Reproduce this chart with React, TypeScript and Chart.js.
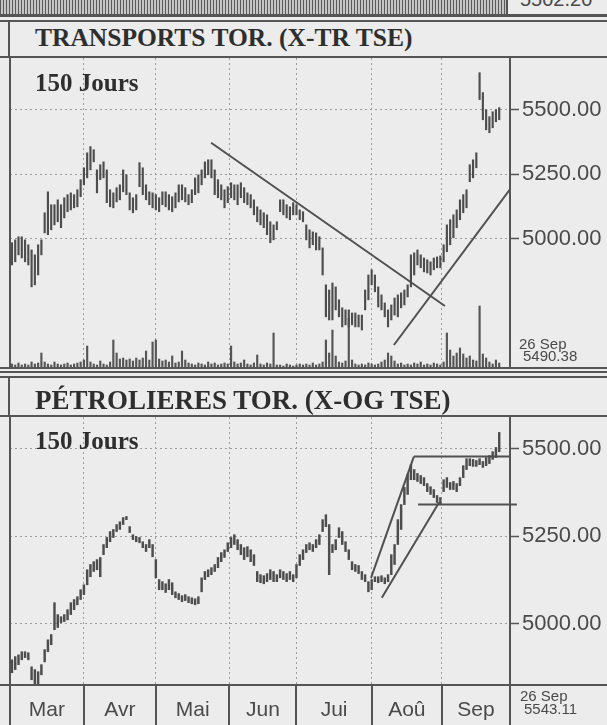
import React, { useEffect, useRef } from 'react';
import { Chart, registerables } from 'chart.js';

Chart.register(...registerables);

// ---------- data ----------
const months = ['Mar', 'Avr', 'Mai', 'Jun', 'Jui', 'Aoû', 'Sep'];
const monthStarts = [22, 44, 66.5, 87, 110, 131.5];
const priceTicks = [5000, 5250, 5500];
const title1 = 'TRANSPORTS TOR. (X-TR TSE)';
const title2 = 'PÉTROLIERES TOR. (X-OG TSE)';
const periodLabel = '150 Jours';
const lastDate = '26 Sep';
const lastClose1 = '5490.38';
const lastClose2 = '5543.11';
const prevChartClose = '5502.20';

const high1 = [4985,4996,5008,5008,4996,4977,4957,4938,4977,4996,
5101,5182,5132,5132,5151,5132,5159,5171,5178,5171,
5190,5229,5275,5333,5357,5345,5267,5287,5298,5267,
5190,5178,5198,5209,5267,5248,5178,5159,5171,5295,
5275,5209,5182,5178,5171,5159,5182,5182,5171,5163,
5178,5209,5209,5198,5171,5190,5236,5248,5267,5298,
5306,5306,5267,5229,5209,5190,5202,5217,5209,5209,
5217,5198,5178,5171,5151,5124,5112,5101,5093,5066,
5054,5066,5151,5151,5132,5124,5140,5132,5112,5105,
5054,5035,5027,5023,5008,4965,4822,4802,4829,4814,
4764,4733,4725,4725,4713,4713,4705,4705,4802,4860,
4880,4860,4814,4783,4752,4725,4744,4771,4783,4791,
4802,4822,4938,4946,4957,4938,4926,4919,4911,4926,
4930,4934,4977,5054,5074,5093,5112,5151,5171,5190,
5287,5306,5333,5643,5566,5500,5473,5492,5500,5508];

const low1 = [4899,4911,4938,4926,4911,4899,4814,4822,4860,4938,
5023,5016,5035,5054,5066,5043,5081,5105,5112,5120,
5124,5163,5209,5236,5267,5298,5178,5229,5236,5140,
5124,5120,5143,5151,5182,5171,5112,5101,5112,5202,
5171,5151,5132,5120,5112,5105,5132,5124,5112,5105,
5120,5143,5151,5143,5132,5140,5171,5178,5209,5236,
5248,5236,5171,5159,5151,5120,5140,5159,5151,5132,
5159,5140,5132,5120,5093,5066,5054,5043,5016,4985,
4996,5035,5105,5093,5081,5074,5093,5093,5074,5066,
4996,4965,4977,4957,4957,4860,4698,4686,4686,4725,
4698,4659,4667,4659,4667,4659,4659,4647,4725,4764,
4822,4795,4736,4725,4698,4659,4686,4705,4698,4733,
4744,4775,4814,4860,4899,4888,4872,4868,4860,4880,
4888,4888,4911,4950,4977,5004,5043,5074,5101,5120,
5221,5236,5275,5539,5461,5422,5411,5430,5453,5461];

const vol1 = [4,3,5,3,4,3,6,4,5,15,
6,4,3,6,4,3,4,5,3,4,
5,6,8,22,6,4,3,7,4,3,
6,28,15,9,10,8,9,7,10,8,
10,17,8,26,28,9,7,8,6,12,
5,6,17,8,5,4,3,5,4,3,
6,4,5,3,4,5,4,22,6,4,
5,8,4,3,5,13,4,3,5,4,
35,3,3,2,4,3,2,3,4,3,
4,3,5,3,4,6,28,15,38,12,
6,5,7,50,8,4,3,4,3,5,
4,3,4,6,8,15,12,7,4,5,
3,4,3,5,4,6,3,4,3,5,
4,3,6,35,18,12,15,20,14,10,
12,8,7,62,14,10,6,4,8,5];

const high2 = [4897,4906,4911,4920,4920,4917,4877,4869,4863,4883,
4926,4954,4969,5060,5026,5020,5026,5040,5060,5069,
5077,5097,5111,5154,5169,5177,5183,5189,5226,5246,
5263,5269,5283,5291,5303,5306,5277,5254,5249,5246,
5234,5226,5240,5226,5183,5126,5120,5114,5126,5117,
5091,5086,5080,5083,5077,5074,5071,5077,5131,5149,
5154,5160,5169,5189,5203,5211,5231,5246,5254,5240,
5226,5217,5220,5211,5197,5149,5140,5137,5143,5154,
5149,5140,5154,5149,5143,5149,5140,5169,5197,5211,
5226,5231,5226,5240,5254,5297,5311,5283,5226,5240,
5274,5263,5234,5211,5177,5169,5166,5149,5140,5120,
5126,5134,5134,5137,5131,5140,5197,5226,5297,5340,
5389,5426,5454,5440,5429,5423,5417,5400,5391,5383,
5366,5360,5411,5417,5403,5406,5400,5417,5451,5471,
5471,5469,5466,5471,5463,5474,5480,5491,5503,5546];

const low2 = [4860,4869,4883,4897,4903,4897,4840,4822,4822,4854,
4891,4920,4940,4983,4989,5003,5006,5011,5026,5040,
5054,5069,5083,5111,5134,5149,5154,5134,5197,5217,
5234,5246,5263,5269,5283,5297,5260,5240,5234,5231,
5217,5206,5217,5191,5131,5097,5097,5089,5097,5083,
5074,5069,5063,5066,5060,5057,5054,5057,5091,5126,
5134,5140,5149,5160,5177,5189,5206,5217,5226,5211,
5197,5183,5191,5177,5166,5120,5117,5114,5120,5126,
5120,5120,5131,5126,5120,5126,5120,5131,5166,5183,
5203,5211,5206,5217,5226,5263,5277,5140,5203,5211,
5246,5226,5206,5183,5154,5149,5143,5126,5120,5091,
5097,5120,5117,5120,5114,5120,5140,5169,5226,5269,
5340,5369,5411,5411,5406,5400,5394,5377,5369,5360,
5346,5340,5377,5389,5383,5383,5377,5394,5417,5440,
5451,5449,5449,5454,5446,5451,5457,5469,5474,5491];

// trend lines: [day, value] end points
const trend1Down = [[60.9, 5372], [132.4, 4740]];
const trend1Up = [[116.8, 4589], [152.3, 5192]];
const trend2Up = [[109.8, 5131], [122.9, 5477]];
const trend2Top = [[122.9, 5477], [152.3, 5477]];
const trend2Low = [[113.1, 5074], [130.6, 5346]];
const trend2Mid = [[124.2, 5340], [154.4, 5340]];

const X_MIN = -0.6;
const X_MAX = 152.3;

// ---------- helpers ----------
const SANS = "'Liberation Sans', Arial, Helvetica, sans-serif";
const SERIF = "'Liberation Serif', 'Times New Roman', serif";
const INK = '#4a4a4a';

const days = high1.map((_, i) => i);

function xScale() {
  return {
    type: 'linear',
    min: X_MIN,
    max: X_MAX,
    offset: false,
    afterBuildTicks: (s: any) => { s.ticks = monthStarts.map((v) => ({ value: v })); },
    afterFit: (s: any) => { s.height = 0; s.paddingLeft = 0; s.paddingRight = 0; },
    ticks: { display: false },
    grid: { color: '#9c9c9c', lineWidth: 1, drawTicks: false, offset: false },
    border: { display: false, dash: [2, 3] },
  };
}

function priceScale(min: number, max: number) {
  return {
    type: 'linear',
    position: 'right',
    min,
    max,
    afterBuildTicks: (s: any) => { s.ticks = priceTicks.map((v) => ({ value: v })); },
    afterFit: (s: any) => { s.width = 97; s.paddingTop = 0; s.paddingBottom = 0; },
    ticks: {
      color: INK,
      padding: 3,
      font: { family: SANS, size: 22 },
      callback: (v: any) => Number(v).toFixed(2),
    },
    grid: { color: '#9c9c9c', lineWidth: 1, tickLength: 9, tickColor: '#555', tickWidth: 1.5, tickBorderDash: [] },
    border: { display: true, color: '#555', width: 2, dash: [2, 3] },
  };
}

function trend(points: number[][], clipRight = 0) {
  return {
    type: 'line',
    data: points.map(([x, y]) => ({ x, y })),
    borderColor: '#505050',
    borderWidth: 2,
    pointRadius: 0,
    fill: false,
    yAxisID: 'y',
    clip: { left: 0, top: 0, right: clipRight, bottom: 0 },
  };
}

const monthRow = {
  id: 'monthRow',
  afterDraw(chart: any) {
    const { ctx, chartArea, scales } = chart;
    const xs = scales.x;
    const top = chartArea.bottom;
    const bottom = chart.height;
    ctx.save();
    ctx.strokeStyle = '#555';
    ctx.lineWidth = 2;
    const edges = [xs.min, ...monthStarts, xs.max];
    monthStarts.forEach((v) => {
      const px = Math.round(xs.getPixelForValue(v));
      ctx.beginPath(); ctx.moveTo(px, top); ctx.lineTo(px, bottom); ctx.stroke();
    });
    ctx.beginPath(); ctx.moveTo(chartArea.right, top); ctx.lineTo(chartArea.right, bottom); ctx.stroke();
    ctx.fillStyle = INK;
    ctx.font = `21px ${SANS}`;
    ctx.textAlign = 'center';
    ctx.textBaseline = 'alphabetic';
    months.forEach((m, k) => {
      const a = xs.getPixelForValue(edges[k]);
      const b = xs.getPixelForValue(edges[k + 1]);
      ctx.fillText(m, (a + b) / 2, top + 31);
    });
    ctx.restore();
  },
};

function baseOptions(yMin: number, yMax: number, bottomPad: number, withVol: boolean) {
  const scales: any = { x: xScale(), y: priceScale(yMin, yMax) };
  if (withVol) scales.yv = { type: 'linear', display: false, min: 0, max: 310 };
  return {
    responsive: false,
    animation: false,
    devicePixelRatio: 1,
    layout: { autoPadding: false, padding: { left: 0, right: 0, top: 0, bottom: bottomPad } },
    plugins: { legend: { display: false }, tooltip: { enabled: false } },
    scales,
  };
}

export default function App() {
  const c1 = useRef<HTMLCanvasElement>(null);
  const c2 = useRef<HTMLCanvasElement>(null);

  useEffect(() => {
    const ch1 = new Chart(c1.current as HTMLCanvasElement, {
      type: 'bar',
      data: {
        datasets: [
          {
            type: 'bar',
            data: days.map((i) => ({ x: i, y: [low1[i], high1[i]] })),
            backgroundColor: '#4d4d4d',
            barThickness: 1.5,
            grouped: false,
            yAxisID: 'y',
          },
          {
            type: 'bar',
            data: days.map((i) => ({ x: i, y: vol1[i] })),
            backgroundColor: '#555555',
            barThickness: 1.5,
            grouped: false,
            yAxisID: 'yv',
          },
          trend(trend1Down),
          trend(trend1Up),
        ] as any,
      },
      options: baseOptions(4500, 5700, 0, true) as any,
    });
    const ch2 = new Chart(c2.current as HTMLCanvasElement, {
      type: 'bar',
      data: {
        datasets: [
          {
            type: 'bar',
            data: days.map((i) => ({ x: i, y: [low2[i], high2[i]] })),
            backgroundColor: '#4d4d4d',
            barThickness: 1.8,
            grouped: false,
            yAxisID: 'y',
          },
          trend(trend2Up),
          trend(trend2Top),
          trend(trend2Low),
          trend(trend2Mid, 8),
        ] as any,
      },
      options: baseOptions(4825, 5590, 40, false) as any,
      plugins: [monthRow],
    });
    return () => { ch1.destroy(); ch2.destroy(); };
  }, []);

  const line = (style: React.CSSProperties) => (
    <div style={{ position: 'absolute', background: '#555', ...style }} />
  );
  const text = (content: string, style: React.CSSProperties) => (
    <div style={{ position: 'absolute', whiteSpace: 'nowrap', lineHeight: 1, color: '#2e2e2e', ...style }}>{content}</div>
  );

  return (
    <div style={{ position: 'absolute', left: 0, top: 0, width: 607, height: 725, overflow: 'hidden', background: '#ececec' }}>
      {/* remnant of previous chart */}
      <div style={{ position: 'absolute', left: 0, top: 0, width: 506, height: 14,
        background: 'repeating-linear-gradient(90deg, #5c5c5c 0px, #5c5c5c 1px, #c4c4c4 1px, #c4c4c4 3px)' }} />
      <div style={{ position: 'absolute', left: 512, top: 0, width: 95, height: 14, overflow: 'hidden' }}>
        <div style={{ position: 'absolute', left: 8, top: -11, font: `20px ${SANS}`, color: INK, lineHeight: 1 }}>{prevChartClose}</div>
      </div>
      {line({ left: 506, top: 0, width: 2, height: 15 })}
      {line({ left: 0, top: 14, width: 607, height: 3 })}
      {line({ left: 0, top: 20, width: 607, height: 2 })}

      {/* panel 1 */}
      {line({ left: 8, top: 20, width: 2, height: 38 })}
      {text(title1, { left: 35, top: 23, font: `bold 25.5px ${SERIF}` })}
      {line({ left: 0, top: 56, width: 607, height: 2 })}
      <canvas ref={c1} width={597} height={310} style={{ position: 'absolute', left: 10, top: 58, width: 597, height: 310 }} />
      {line({ left: 9, top: 56, width: 2, height: 313 })}
      {text(periodLabel, { left: 35, top: 69, font: `bold 25px ${SERIF}` })}
      {text(lastDate, { left: 519, top: 335, font: `15px ${SANS}`, color: INK })}
      {text(lastClose1, { left: 523, top: 347, font: `15px ${SANS}`, color: INK })}
      {line({ left: 0, top: 367, width: 607, height: 2 })}
      {line({ left: 0, top: 371, width: 607, height: 2 })}

      {/* panel 2 */}
      {line({ left: 0, top: 376, width: 607, height: 2 })}
      {line({ left: 8, top: 376, width: 2, height: 41 })}
      {text(title2, { left: 35, top: 385, font: `bold 27px ${SERIF}` })}
      {line({ left: 0, top: 415, width: 607, height: 2 })}
      <canvas ref={c2} width={597} height={308} style={{ position: 'absolute', left: 10, top: 417, width: 597, height: 308 }} />
      {line({ left: 9, top: 415, width: 2, height: 310 })}
      {text(periodLabel, { left: 35, top: 427, font: `bold 25px ${SERIF}` })}
      {line({ left: 0, top: 684, width: 607, height: 2 })}
      {text(lastDate, { left: 520, top: 687, font: `15px ${SANS}`, color: INK })}
      {text(lastClose2, { left: 524, top: 700, font: `15px ${SANS}`, color: INK })}
    </div>
  );
}
